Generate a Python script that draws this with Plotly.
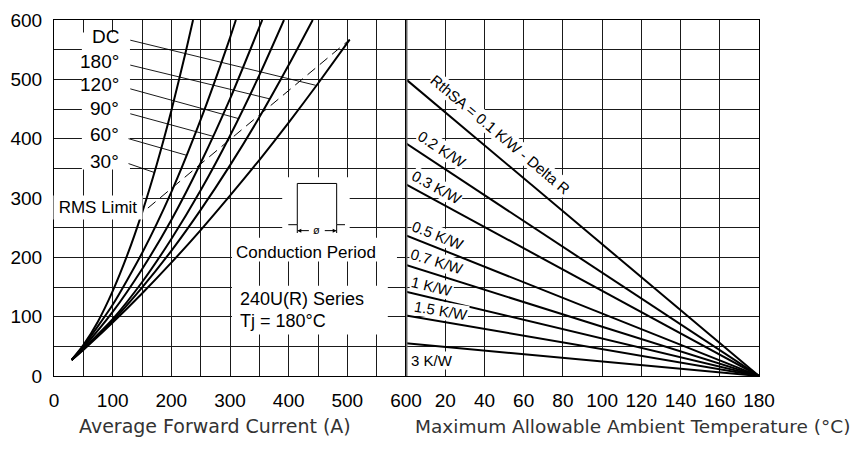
import plotly.graph_objects as go

# ---------------- data ----------------
# Left panel: max average power loss (W) vs average forward current (A)
curve_names = ["30°", "60°", "90°", "120°", "180°", "DC"]
curr_30 = [30, 50, 75, 100, 125, 150, 175, 200, 225, 237]
pow_30 = [27, 52, 92, 143, 204, 275, 356, 447, 548, 600]
curr_60 = [30, 50, 100, 150, 200, 250, 300, 310]
pow_60 = [27, 50, 120, 207, 310, 432, 570, 600]
curr_90 = [30, 50, 100, 150, 200, 250, 300, 355]
pow_90 = [27, 48, 108, 180, 263, 359, 467, 600]
curr_120 = [30, 50, 100, 150, 200, 250, 300, 350, 392]
pow_120 = [27, 46, 96, 158, 231, 313, 405, 507, 600]
curr_180 = [30, 50, 100, 150, 200, 250, 300, 350, 400, 441]
pow_180 = [27, 45, 93, 149, 211, 280, 355, 436, 524, 600]
curr_dc = [30, 50, 100, 150, 200, 250, 300, 350, 400, 450, 504]
pow_dc = [27, 44, 90, 139, 191, 246, 304, 364, 427, 493, 567]

rms_limit_curr = [160, 504]
rms_limit_pow = [283, 567]

# points where the label leader lines touch the curves
leader_curr = [171, 226, 271, 314, 368, 446]
leader_pow = [343, 372, 404, 434, 467, 490]

# Right panel: power vs max ambient temperature for heatsink resistances
rth_labels = ["RthSA = 0.1 K/W - Delta R", "0.2 K/W", "0.3 K/W", "0.5 K/W",
              "0.7 K/W", "1 K/W", "1.5 K/W", "3 K/W"]
pow_at_0c = [500, 392, 323, 237, 187, 142, 102, 55]
amb_temp = [0, 180]
pow_at_tj = 0

left_ticks = [0, 100, 200, 300, 400, 500, 600]
right_ticks = [0, 20, 40, 60, 80, 100, 120, 140, 160, 180]
right_ticktext = ["", "20", "40", "60", "80", "100", "120", "140", "160", "180"]
y_ticks = [0, 100, 200, 300, 400, 500, 600]

# ---------------- figure ----------------
BLACK = "black"
fig = go.Figure()

# white masks hiding the grid behind text blocks (drawn first, under the curves)
for x0, x1, y0, y1 in [(47.5, 129.5, 348, 579), (389, 504, 232, 335),
                       (303.4, 584.6, 193, 233), (303.4, 569, 70, 152)]:
    fig.add_trace(go.Scatter(x=[x0, x1, x1, x0, x0], y=[y0, y0, y1, y1, y0], mode="lines",
                             fill="toself", fillcolor="white", line=dict(width=0, color="white"),
                             xaxis="x", yaxis="y", hoverinfo="skip", showlegend=False))

curves = [(curr_30, pow_30), (curr_60, pow_60), (curr_90, pow_90),
          (curr_120, pow_120), (curr_180, pow_180), (curr_dc, pow_dc)]
for (cx, cy), nm in zip(curves, curve_names):
    fig.add_trace(go.Scatter(x=cx, y=cy, mode="lines", name=nm,
                             line=dict(color=BLACK, width=2, shape="spline", smoothing=0.6),
                             xaxis="x", yaxis="y", hoverinfo="skip", showlegend=False))

fig.add_trace(go.Scatter(x=rms_limit_curr, y=rms_limit_pow, mode="lines",
                         line=dict(color=BLACK, width=1, dash="10px,6px"),
                         xaxis="x", yaxis="y", hoverinfo="skip", showlegend=False))

# leader lines (label -> curve)
label_pos = [(127, 358), (127, 400), (130, 442), (130, 484), (130, 524), (130, 566)]
for (lx, ly), px, py in zip(label_pos, leader_curr, leader_pow):
    fig.add_trace(go.Scatter(x=[lx, px], y=[ly, py], mode="lines",
                             line=dict(color=BLACK, width=0.9),
                             xaxis="x", yaxis="y", hoverinfo="skip", showlegend=False))

for p0 in pow_at_0c:
    fig.add_trace(go.Scatter(x=amb_temp, y=[p0, pow_at_tj], mode="lines",
                             line=dict(color=BLACK, width=2),
                             xaxis="x2", yaxis="y2", hoverinfo="skip", showlegend=False))

# invisible tick marks push the tick labels away from the axes
axis_common = dict(showgrid=True, gridcolor="#1a1a1a", gridwidth=1, zeroline=False,
                   showline=True, linecolor=BLACK, linewidth=1, mirror=True,
                   ticks="outside", ticklen=7, tickcolor="rgba(0,0,0,0)",
                   automargin=False, layer="below traces",
                   tickfont=dict(size=19, color=BLACK, family="Arial"))
minor = dict(dtick=50, showgrid=True, gridcolor="#1a1a1a", gridwidth=1)
split = 352 / 705

# the page body has an 8px margin, so the figure is 8px smaller and margins shifted
fig.update_layout(
    width=857, height=447,
    margin=dict(l=46, r=106, t=12, b=78.5, autoexpand=False),
    paper_bgcolor="white", plot_bgcolor="rgba(0,0,0,0)",
    font=dict(family="Arial", color=BLACK),
    hovermode=False,
    xaxis=dict(domain=[0, split], range=[0, 600], tickmode="array", tickvals=left_ticks,
               minor=minor, anchor="y", **axis_common),
    yaxis=dict(domain=[0, 1], range=[0, 600], tickmode="array", tickvals=y_ticks,
               minor=minor, anchor="x", **axis_common),
    xaxis2=dict(domain=[split, 1], range=[0, 180], tickmode="array", tickvals=right_ticks,
                ticktext=right_ticktext, anchor="y2", **axis_common),
    yaxis2=dict(domain=[0, 1], range=[0, 600], tickmode="array", tickvals=y_ticks,
                minor=minor, showticklabels=False, anchor="x2", **axis_common),
)

shapes = []
# conduction pulse sketch
shapes.append(dict(type="path", xref="x", yref="y", layer="above",
                   path="M 399.4,255 H 414.7 V 324.5 H 481.8 V 255 H 496",
                   line=dict(color=BLACK, width=1)))
for xv in (414.7, 481.8):
    shapes.append(dict(type="line", xref="x", yref="y", x0=xv, x1=xv, y0=255, y1=241,
                       line=dict(color=BLACK, width=1), layer="above"))
# separator between panels
shapes.append(dict(type="line", xref="x2", yref="y2", x0=0, x1=0, y0=0, y1=600,
                   line=dict(color="#6a6a6a", width=3), layer="above"))
fig.update_layout(shapes=shapes)

ann = []
label_y = [362, 407, 450.4, 491.3, 529.6, 572.7]
for nm, yy in zip(curve_names, label_y):
    ann.append(dict(x=114, y=yy, xref="x", yref="y", text=nm, showarrow=False,
                    xanchor="right", yanchor="middle", font=dict(size=19)))
ann.append(dict(x=75, y=284.8, xref="x", yref="y", text="RMS Limit", showarrow=False,
                xanchor="center", yanchor="middle", font=dict(size=17),
                bgcolor="white", width=86, height=21))
ann.append(dict(x=430, y=208, xref="x", yref="y", text="Conduction Period", showarrow=False,
                xanchor="center", yanchor="middle", font=dict(size=17)))
ann.append(dict(x=313.6, y=129, xref="x", yref="y", text="240U(R) Series",
                showarrow=False, xanchor="left", yanchor="middle", font=dict(size=18)))
ann.append(dict(x=313.6, y=93.5, xref="x", yref="y", text="Tj = 180°C",
                showarrow=False, xanchor="left", yanchor="middle", font=dict(size=18)))
ann.append(dict(x=448, y=246, xref="x", yref="y", text="ø", showarrow=False,
                xanchor="center", yanchor="middle", font=dict(size=11)))
for xe, xt in ((414.7, 437), (481.8, 459)):
    ann.append(dict(x=xe, y=245, ax=xt, ay=245, xref="x", yref="y", axref="x", ayref="y",
                    text="", showarrow=True, arrowhead=2, arrowsize=0.8, arrowwidth=1,
                    arrowcolor=BLACK))

rth_place = [(48.1, 407, 40), (18.6, 382, 33.3), (16.0, 318, 28.4), (16.5, 237, 21.7),
             (16.0, 193, 17.4), (13.5, 151, 13.4), (17.6, 110, 9.7), (13.5, 26, 0)]
for txt, (xx, yy, ang) in zip(rth_labels, rth_place):
    ann.append(dict(x=xx, y=yy, xref="x2", yref="y2", text=txt, showarrow=False,
                    textangle=ang, xanchor="center", yanchor="middle",
                    font=dict(size=15), bgcolor="white", borderpad=0))

title_y = (376.5 - 427) / 356.5
ann.append(dict(x=(77 - 54) / 705, y=title_y, xref="paper", yref="paper",
                text="Average Forward Current (A)", showarrow=False, xanchor="left",
                yanchor="middle", font=dict(size=19, family="DejaVu Sans", color="#333")))
ann.append(dict(x=(413 - 54) / 705, y=title_y, xref="paper", yref="paper",
                text="Maximum Allowable Ambient Temperature (°C)", showarrow=False,
                xanchor="left", yanchor="middle",
                font=dict(size=18.5, family="DejaVu Sans", color="#333")))
fig.update_layout(annotations=ann)

fig.write_html("out.html")
